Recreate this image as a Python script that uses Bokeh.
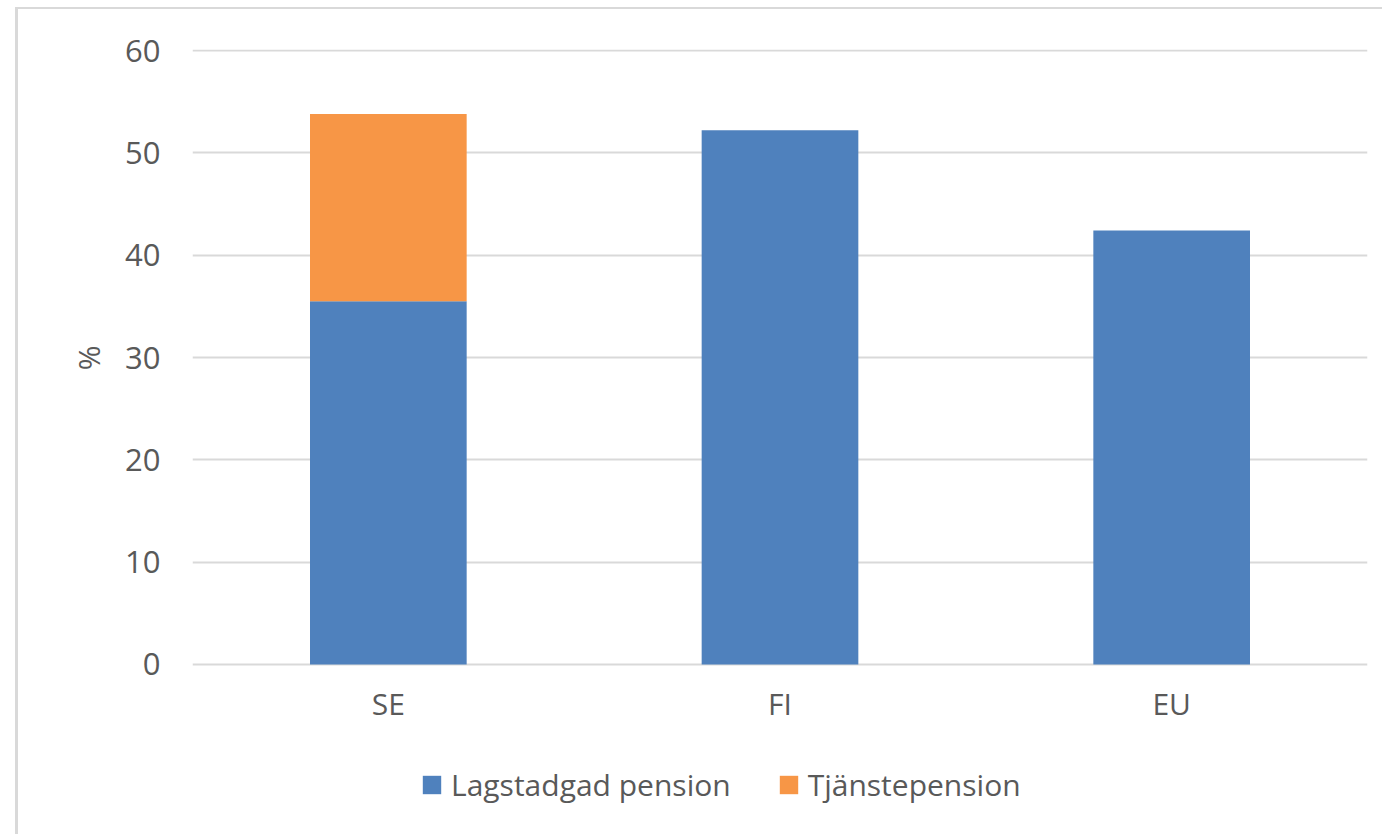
from bokeh.plotting import figure
from bokeh.models import ColumnDataSource, FactorRange, Range1d, Legend, LegendItem, Title
from bokeh.core.properties import value
from bokeh.embed import file_html
from bokeh.resources import INLINE

categories = ["SE", "FI", "EU"]
lagstadgad = [35.5, 52.2, 42.4]
tjanste = [18.3, 0.0, 0.0]
series_names = ["Lagstadgad pension", "Tjänstepension"]
colors = ["#4f81bd", "#f79646"]
y_ticks = [0, 10, 20, 30, 40, 50, 60]
y_label = "%"

FONT = "Open Sans"
TXT = "#595959"

source = ColumnDataSource(dict(cat=categories, lag=lagstadgad, tj=tjanste,
                               base=[0] * len(categories)))

p = figure(
    width=1367, height=827,
    x_range=FactorRange(*categories), y_range=Range1d(-16.81, 60.1),
    x_axis_location=None,
    output_backend="svg", toolbar_location=None,
    min_border_left=174, min_border_right=18, min_border_top=40, min_border_bottom=0,
)
p.styles = {"border-left": "3px solid #d9d9d9", "border-top": "2px solid #d9d9d9",
            "margin-left": "15px", "margin-top": "7px"}
p.outline_line_color = None
p.background_fill_color = "white"
p.border_fill_color = "white"

rs = p.vbar_stack(["lag", "tj"], x="cat", width=0.4, source=source,
                  color=colors, line_color=None)

# category labels under the zero line
p.text(x="cat", y="base", text="cat", source=source, y_offset=39,
       text_align="center", text_baseline="middle",
       text_font=value(FONT), text_font_size="30px", text_color=TXT)

p.xgrid.grid_line_color = None
p.ygrid.grid_line_color = "#d9d9d9"
p.ygrid.grid_line_width = 2
p.yaxis.ticker = y_ticks
p.ygrid.ticker = y_ticks

ax = p.yaxis[0]
ax.axis_line_color = None
ax.major_tick_line_color = None
ax.minor_tick_line_color = None
ax.major_label_text_font = FONT
ax.major_label_text_font_size = "31px"
ax.major_label_text_color = TXT
ax.major_label_standoff = 26

ttl = Title(text=y_label, align="right", offset=296,
            text_font=FONT, text_font_size="30px", text_font_style="normal",
            text_color=TXT)
try:
    ttl.standoff = 28
except Exception:
    pass
p.add_layout(ttl, "left")

legend = Legend(
    items=[LegendItem(label=series_names[0], renderers=[rs[0]]),
           LegendItem(label=series_names[1], renderers=[rs[1]])],
    location=(228, 31), orientation="horizontal",
    padding=0, margin=0, spacing=46, label_standoff=8,
    glyph_width=23, glyph_height=23,
    label_text_font=FONT, label_text_font_size="30px", label_text_color=TXT,
    border_line_color=None, background_fill_alpha=0,
)
p.add_layout(legend, "center")

open("out.html", "w").write(file_html(p, INLINE))
